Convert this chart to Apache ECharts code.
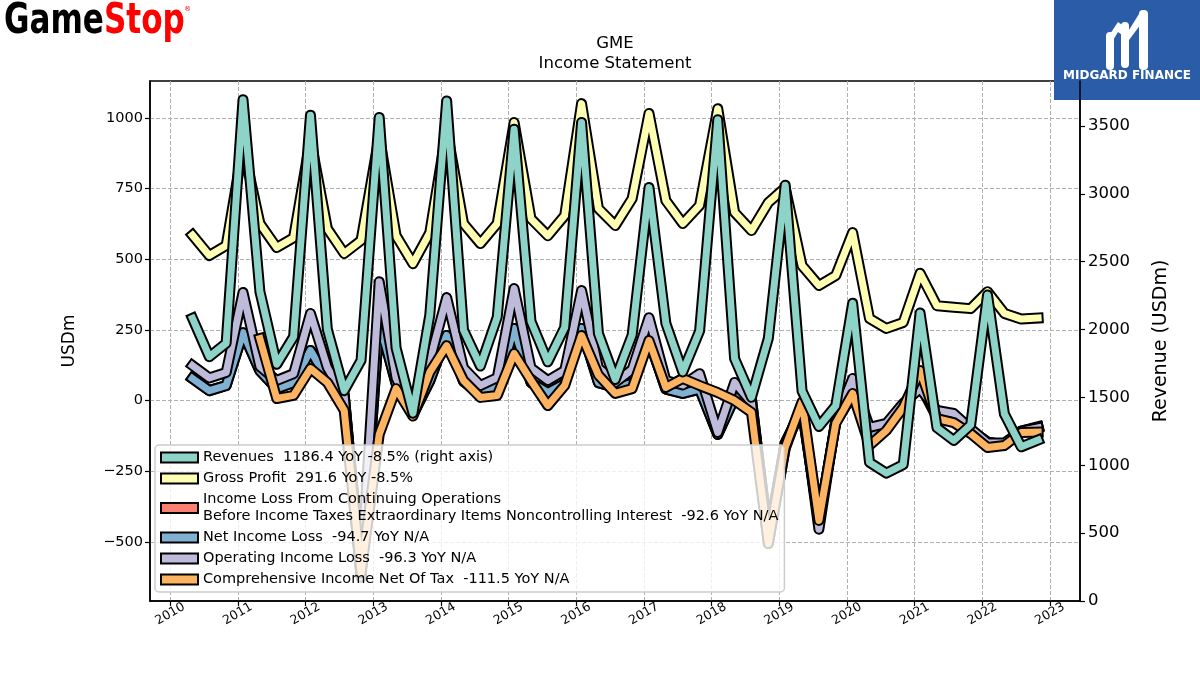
<!DOCTYPE html>
<html>
<head>
<meta charset="utf-8">
<script src="https://cdn.jsdelivr.net/npm/echarts@6/dist/echarts.min.js"></script>
<style>
  html, body { margin: 0; padding: 0; background: #fff; }
  #chart { width: 1200px; height: 675px; }
</style>
</head>
<body>
<div id="chart"></div>
<script>
// quarterly fiscal period ends
const dates = [
  "2010-05-01", "2010-07-31", "2010-10-30", "2011-01-29", "2011-04-30", "2011-07-30", "2011-10-29",
  "2012-01-28", "2012-04-28", "2012-07-28", "2012-10-27", "2013-02-02", "2013-05-04", "2013-08-03",
  "2013-11-02", "2014-02-01", "2014-05-03", "2014-08-02", "2014-11-01", "2015-01-31", "2015-05-02",
  "2015-08-01", "2015-10-31", "2016-01-30", "2016-04-30", "2016-07-30", "2016-10-29", "2017-01-28",
  "2017-04-29", "2017-07-29", "2017-10-28", "2018-02-03", "2018-05-05", "2018-08-04", "2018-11-03",
  "2019-02-02", "2019-05-04", "2019-08-03", "2019-11-02", "2020-02-01", "2020-05-02", "2020-08-01",
  "2020-10-31", "2021-01-30", "2021-05-01", "2021-07-31", "2021-10-30", "2022-01-29", "2022-04-30",
  "2022-07-30", "2022-10-29",
];

const revenues = [
  2083, 1800, 1899, 3693, 2281, 1744, 1947, 3579, 2002, 1550, 1773, 3562, 1865, 1384, 2107, 3684,
  1996, 1731, 2092, 3476, 2061, 1762, 2016, 3525, 1971, 1632, 1959, 3046, 2046, 1688, 1989, 3546,
  1786, 1501, 1935, 3063, 1547, 1286, 1439, 2194, 1021, 942, 1005, 2122, 1277, 1183, 1297, 2254,
  1378, 1136, 1186.4,
];
const grossProfit = [
  585, 513, 548, 900, 626, 541, 576, 925, 608, 520, 566, 935, 583, 484, 594, 960,
  626, 555, 626, 983, 643, 583, 654, 1050, 679, 619, 714, 1015, 707, 626, 690, 1032,
  665, 601, 700, 753, 477, 407, 442, 594, 290, 255, 276, 450, 335, 330, 325, 385,
  308, 288, 291.6,
];
const preTaxIncome = [
  78, 35, 53, 240, 105, 42, 64, 177, 75, 20, -620, 280, 60, -50, 70, 230,
  68, 22, 52, 255, 64, 28, 60, 255, 63, 46, 60, 215, 40, 25, 40, -120,
  10, 5, -488, -150, -30, -430, -75, 20, -130, -90, -20, 72, -58, -60, -104, -147,
  -157, -108, -92.6,
];
const netIncome = [
  78, 35, 53, 240, 105, 42, 64, 177, 75, 20, -620, 280, 60, -50, 70, 230,
  68, 22, 52, 255, 64, 28, 60, 255, 63, 46, 60, 215, 40, 25, 40, -120,
  10, 5, -488, -150, -30, -430, -75, 20, -130, -90, -20, 55, -60, -62, -105, -147,
  -158, -109, -94.7,
];
const operatingIncome = [
  124, 80, 99, 382, 120, 71, 95, 308, 117, 15, -625, 420, 80, -40, 140, 364,
  115, 53, 81, 396, 115, 71, 106, 389, 115, 64, 110, 293, 71, 55, 95, -113,
  64, -7, -505, -170, -10, -455, -70, 78, -95, -81, -10, 42, -35, -46, -100, -150,
  -150, -108, -96.3,
];
const comprehensiveIncome = [
  null, null, null, null, 219, 7, 18, 113, 64, -35, -610, -120, 42, -55, 100, 194,
  71, 11, 18, 166, 71, -18, 53, 230, 90, 25, 42, 212, 46, 78, 53, 28,
  0, -42, -506, -166, -5, -424, -81, 25, -159, -106, -25, 106, -64, -78, -117, -166,
  -159, -113, -111.5,
];

const leftTicks = [-500, -250, 0, 250, 500, 750, 1000];
const rightTicks = [0, 500, 1000, 1500, 2000, 2500, 3000, 3500];
const yearTicks = [2010, 2011, 2012, 2013, 2014, 2015, 2016, 2017, 2018, 2019, 2020, 2021, 2022, 2023];

const labels = {
  rev: "Revenues  1186.4 YoY -8.5% (right axis)",
  gp: "Gross Profit  291.6 YoY -8.5%",
  pretax: "Income Loss From Continuing Operations\nBefore Income Taxes Extraordinary Items Noncontrolling Interest  -92.6 YoY N/A",
  net: "Net Income Loss  -94.7 YoY N/A",
  op: "Operating Income Loss  -96.3 YoY N/A",
  comp: "Comprehensive Income Net Of Tax  -111.5 YoY N/A",
};

const FONT = "DejaVu Sans";
const minus = (v) => String(v).replace("-", "\u2212");
const ts = (s) => {
  const [y, m, d] = s.split("-").map(Number);
  return Date.UTC(y, m - 1, d);
};
const yearTs = yearTicks.map((y) => Date.UTC(y, 0, 1));

// draw order: left-axis lines first, revenues (twin axis) on top
const defs = [
  { key: "gp", color: "#ffffb3", values: grossProfit, axis: 0 },
  { key: "pretax", color: "#fb8072", values: preTaxIncome, axis: 0 },
  { key: "net", color: "#80b1d3", values: netIncome, axis: 0 },
  { key: "op", color: "#bebada", values: operatingIncome, axis: 0 },
  { key: "comp", color: "#fdb462", values: comprehensiveIncome, axis: 0 },
  { key: "rev", color: "#8dd3c7", values: revenues, axis: 1 },
];

const series = [];
defs.forEach((d) => {
  const pts = [];
  d.values.forEach((v, i) => {
    if (v !== null) pts.push([ts(dates[i]), v]);
  });
  series.push({
    name: d.key + "_outline",
    type: "line",
    yAxisIndex: d.axis,
    data: pts,
    symbol: "none",
    silent: true,
    lineStyle: { color: "#000", width: 11, cap: "square", join: "round" },
  });
  series.push({
    name: d.key,
    type: "line",
    yAxisIndex: d.axis,
    data: pts,
    symbol: "none",
    color: d.color,
    itemStyle: { color: d.color },
    lineStyle: { color: d.color, width: 7, cap: "square", join: "round" },
  });
});

const chart = echarts.init(document.getElementById("chart"), null, { renderer: "canvas" });

chart.setOption({
  animation: false,
  backgroundColor: "#fff",
  title: {
    text: "GME\nIncome Statement",
    left: 610,
    top: 29,
    textAlign: "center",
    textStyle: { fontFamily: FONT, fontSize: 16.5, fontWeight: "normal", color: "#000", lineHeight: 20 },
  },
  grid: {
    left: 150,
    right: 120,
    top: 81,
    bottom: 74,
    show: true,
    borderColor: "#000",
    borderWidth: 1.5,
  },
  legend: {
    data: ["rev", "gp", "pretax", "net", "op", "comp"],
    formatter: (n) => labels[n],
    orient: "vertical",
    left: 155,
    top: 445,
    icon: "rect",
    itemWidth: 37,
    itemHeight: 10,
    itemGap: 4,
    selectedMode: false,
    itemStyle: { borderColor: "#000", borderWidth: 2 },
    textStyle: { fontFamily: FONT, fontSize: 14.5, color: "#000", lineHeight: 17 },
    backgroundColor: "rgba(255,255,255,0.8)",
    borderColor: "#cccccc",
    borderWidth: 1.5,
    borderRadius: 4,
    padding: [4, 6, 4, 5],
  },
  xAxis: {
    type: "value",
    min: ts("2009-09-14"),
    max: ts("2023-06-12"),
    axisLine: { show: true, onZero: false, lineStyle: { color: "#000", width: 1.5 } },
    axisTick: { show: true, customValues: yearTs, length: 5, lineStyle: { color: "#000", width: 1.2 } },
    axisLabel: {
      customValues: yearTs,
      formatter: (v) => String(new Date(v).getUTCFullYear()),
      rotate: 30,
      align: "center",
      verticalAlign: "middle",
      margin: 13,
      fontFamily: FONT,
      fontSize: 12.5,
      color: "#000",
    },
    splitLine: { show: true, lineStyle: { color: "#b0b0b0", type: [4, 2], width: 1 } },
  },
  yAxis: [
    {
      type: "value",
      position: "left",
      min: -709,
      max: 1130,
      name: "USDm",
      nameLocation: "middle",
      nameGap: 72,
      nameTextStyle: { fontFamily: FONT, fontSize: 17, color: "#000" },
      axisLine: { show: true, lineStyle: { color: "#000", width: 1.5 } },
      axisTick: { show: true, customValues: leftTicks, length: 5, lineStyle: { color: "#000", width: 1.2 } },
      axisLabel: {
        customValues: leftTicks,
        formatter: minus,
        margin: 7,
        fontFamily: FONT,
        fontSize: 14.5,
        color: "#000",
      },
      splitLine: { show: true, lineStyle: { color: "#b0b0b0", type: [4, 2], width: 1 } },
    },
    {
      type: "value",
      position: "right",
      min: 0,
      max: 3831,
      name: "Revenue (USDm)",
      nameLocation: "middle",
      nameGap: 72,
      nameTextStyle: { fontFamily: FONT, fontSize: 19, color: "#000" },
      axisLine: { show: true, lineStyle: { color: "#000", width: 1.5 } },
      axisTick: { show: true, customValues: rightTicks, length: 5, lineStyle: { color: "#000", width: 1.2 } },
      axisLabel: {
        customValues: rightTicks,
        formatter: (v) => String(v),
        margin: 8,
        fontFamily: FONT,
        fontSize: 16.5,
        color: "#000",
      },
      splitLine: { show: false },
    },
  ],
  graphic: [
    {
      type: "text",
      x: 4,
      y: 1,
      scaleX: 0.74,
      style: {
        text: "{g|Game}{s|Stop}",
        rich: {
          g: { fill: "#000", fontSize: 42, fontWeight: "bold", fontFamily: FONT },
          s: { fill: "#f00", fontSize: 42, fontWeight: "bold", fontFamily: FONT },
        },
      },
    },
    {
      type: "text",
      x: 184,
      y: 6,
      style: { text: "\u00ae", fill: "#f00", font: "7px 'DejaVu Sans'" },
    },
    {
      type: "rect",
      shape: { x: 1054, y: 0, width: 146, height: 100 },
      style: { fill: "#2b5ca8" },
    },
    {
      type: "rect",
      shape: { x: 1106, y: 32, width: 8, height: 38, r: 4 },
      style: { fill: "#fff" },
    },
    {
      type: "rect",
      shape: { x: 1121, y: 22, width: 8, height: 46, r: 4 },
      style: { fill: "#fff" },
    },
    {
      type: "rect",
      shape: { x: 1139, y: 10, width: 9, height: 60, r: 4 },
      style: { fill: "#fff" },
    },
    {
      type: "polygon",
      shape: { points: [[1110, 34], [1118, 22], [1129, 30], [1139, 14], [1141, 24], [1129, 40], [1118, 32], [1112, 42]] },
      style: { fill: "#fff" },
    },
    {
      type: "text",
      x: 1127,
      y: 70,
      style: {
        text: "MIDGARD FINANCE",
        fill: "#fff",
        align: "center",
        font: "bold 12px 'DejaVu Sans', sans-serif",
      },
    },
  ],
  series: series,
});
</script>
</body>
</html>
